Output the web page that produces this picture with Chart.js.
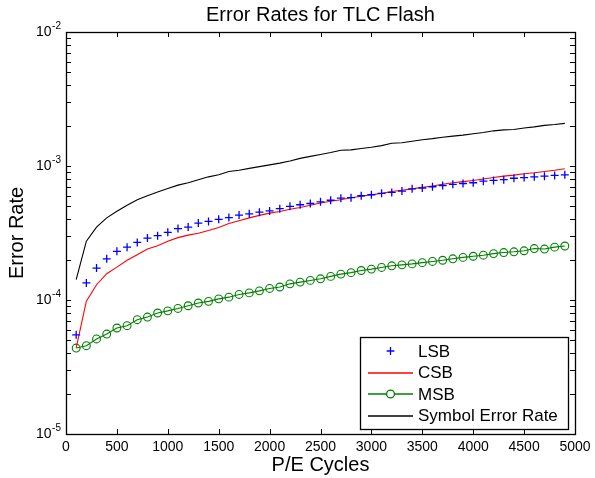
<!DOCTYPE html>
<html>
<head>
<meta charset="utf-8">
<script src="https://cdn.jsdelivr.net/npm/chart.js@4"></script>
<style>
  html, body { margin: 0; padding: 0; background: #fff; }
  #wrap { width: 595px; height: 478px; }
</style>
</head>
<body>
<div id="wrap"><canvas id="c" width="595" height="478"></canvas></div>
<script>
const chartTitle = 'Error Rates for TLC Flash';
const xTitle = 'P/E Cycles';
const yTitle = 'Error Rate';
const seriesNames = ['LSB', 'CSB', 'MSB', 'Symbol Error Rate'];
const seriesColors = ['#0000ff', '#ff0000', '#008000', '#000000'];

const cycles = [100,200,300,400,500,600,700,800,900,1000,1100,1200,1300,1400,1500,1600,1700,1800,1900,2000,
  2100,2200,2300,2400,2500,2600,2700,2800,2900,3000,3100,3200,3300,3400,3500,3600,3700,3800,3900,4000,
  4100,4200,4300,4400,4500,4600,4700,4800,4900];

const lsb = [5.5e-5,1.34e-4,1.73e-4,2.03e-4,2.31e-4,2.48e-4,2.69e-4,2.90e-4,3.02e-4,3.20e-4,
  3.41e-4,3.50e-4,3.75e-4,3.86e-4,4.00e-4,4.12e-4,4.30e-4,4.40e-4,4.52e-4,4.62e-4,
  4.80e-4,5.00e-4,5.14e-4,5.25e-4,5.40e-4,5.55e-4,5.75e-4,5.80e-4,6.00e-4,6.10e-4,
  6.25e-4,6.35e-4,6.50e-4,6.75e-4,6.85e-4,7.00e-4,7.15e-4,7.30e-4,7.40e-4,7.50e-4,
  7.70e-4,7.80e-4,7.90e-4,8.10e-4,8.20e-4,8.30e-4,8.40e-4,8.50e-4,8.60e-4];

const csb = [4.4e-5,9.8e-5,1.30e-4,1.57e-4,1.76e-4,1.98e-4,2.18e-4,2.40e-4,2.54e-4,2.74e-4,
  2.92e-4,3.05e-4,3.15e-4,3.30e-4,3.48e-4,3.72e-4,3.90e-4,4.10e-4,4.28e-4,4.45e-4,
  4.58e-4,4.75e-4,4.90e-4,5.10e-4,5.30e-4,5.45e-4,5.60e-4,5.80e-4,5.95e-4,6.10e-4,
  6.25e-4,6.45e-4,6.60e-4,6.75e-4,6.95e-4,7.10e-4,7.30e-4,7.50e-4,7.65e-4,7.80e-4,
  8.00e-4,8.20e-4,8.40e-4,8.55e-4,8.75e-4,8.90e-4,9.10e-4,9.30e-4,9.55e-4];

const msb = [4.38e-5,4.56e-5,5.12e-5,5.57e-5,6.18e-5,6.43e-5,7.13e-5,7.46e-5,8.0e-5,8.3e-5,
  8.65e-5,9.06e-5,9.5e-5,9.77e-5,1.02e-4,1.05e-4,1.10e-4,1.13e-4,1.17e-4,1.22e-4,
  1.25e-4,1.32e-4,1.36e-4,1.40e-4,1.44e-4,1.50e-4,1.56e-4,1.60e-4,1.66e-4,1.70e-4,
  1.75e-4,1.80e-4,1.83e-4,1.86e-4,1.90e-4,1.94e-4,1.98e-4,2.03e-4,2.08e-4,2.12e-4,
  2.16e-4,2.22e-4,2.26e-4,2.29e-4,2.33e-4,2.42e-4,2.40e-4,2.48e-4,2.53e-4];

const ser = [1.42e-4,2.75e-4,3.50e-4,4.10e-4,4.60e-4,5.10e-4,5.60e-4,6.00e-4,6.40e-4,6.80e-4,
  7.20e-4,7.50e-4,7.90e-4,8.30e-4,8.60e-4,9.10e-4,9.30e-4,9.60e-4,9.90e-4,1.02e-3,
  1.05e-3,1.09e-3,1.14e-3,1.18e-3,1.22e-3,1.26e-3,1.31e-3,1.32e-3,1.35e-3,1.38e-3,
  1.42e-3,1.48e-3,1.49e-3,1.53e-3,1.57e-3,1.60e-3,1.64e-3,1.67e-3,1.70e-3,1.74e-3,
  1.78e-3,1.83e-3,1.86e-3,1.87e-3,1.92e-3,1.96e-3,2.01e-3,2.04e-3,2.08e-3];

const xTicks = [0,500,1000,1500,2000,2500,3000,3500,4000,4500,5000];
const xTickLabels = ['0','500','1000','1500','2000','2500','3000','3500','4000','4500','5000'];
const yTicks = [1e-5,1e-4,1e-3,1e-2];
const yTickBase = '10';
const yTickExps = ['-5','-4','-3','-2'];

const FONT = "'Liberation Sans', Arial, Helvetica, sans-serif";

function pts(ys) { return cycles.map((x, i) => ({ x: x, y: ys[i] })); }

const frameTicks = {
  id: 'frameTicks',
  afterDatasetsDraw(chart) {
    const ctx = chart.ctx;
    const a = chart.chartArea;
    const xs = chart.scales.x, ys = chart.scales.y;
    const L = 5;
    ctx.save();
    ctx.strokeStyle = '#000';
    ctx.lineWidth = 1;
    ctx.beginPath();
    xTicks.forEach(v => {
      const px = Math.round(xs.getPixelForValue(v)) + 0.5;
      ctx.moveTo(px, a.bottom); ctx.lineTo(px, a.bottom - L);
      ctx.moveTo(px, a.top); ctx.lineTo(px, a.top + L);
    });
    for (let d = 0; d < yTicks.length; d++) {
      const base = yTicks[d];
      const mults = d < yTicks.length - 1 ? [1,2,3,4,5,6,7,8,9] : [1];
      mults.forEach(m => {
        const py = Math.round(ys.getPixelForValue(base * m)) + 0.5;
        ctx.moveTo(a.left, py); ctx.lineTo(a.left + L, py);
        ctx.moveTo(a.right, py); ctx.lineTo(a.right - L, py);
      });
    }
    ctx.stroke();
    ctx.lineWidth = 1.3;
    ctx.strokeRect(Math.round(a.left) + 0.5, Math.round(a.top) + 0.5,
      Math.round(a.right - a.left), Math.round(a.bottom - a.top));

    // y tick labels: base "10" with raised exponent
    ctx.fillStyle = '#000';
    ctx.textBaseline = 'middle';
    ctx.textAlign = 'right';
    yTicks.forEach((v, i) => {
      const py = ys.getPixelForValue(v);
      const xr = a.left - 5;
      ctx.font = '10px ' + FONT;
      const ew = ctx.measureText(yTickExps[i]).width;
      ctx.fillText(yTickExps[i], xr, py - 5.5);
      ctx.font = '14px ' + FONT;
      ctx.fillText(yTickBase, xr - ew - 0.5, py + 0.5);
    });

    // chart title centred over the plot area
    ctx.textAlign = 'center';
    ctx.font = '20px ' + FONT;
    ctx.fillText(chartTitle, (a.left + a.right) / 2, 15.5);
    ctx.restore();
  }
};

const boxLegend = {
  id: 'boxLegend',
  afterDraw(chart) {
    const ctx = chart.ctx;
    const a = chart.chartArea;
    const w = 208, h = 92;
    const x0 = Math.round(a.right - 7 - w), y0 = Math.round(a.bottom - 5 - h);
    ctx.save();
    ctx.fillStyle = '#fff';
    ctx.fillRect(x0, y0, w, h);
    ctx.strokeStyle = '#000';
    ctx.lineWidth = 1.3;
    ctx.strokeRect(x0 + 0.5, y0 + 0.5, w, h);
    ctx.font = '17px ' + FONT;
    ctx.textBaseline = 'middle';
    ctx.textAlign = 'left';
    const markers = ['cross', 'none', 'circle', 'none'];
    const lines = [false, true, true, true];
    seriesNames.forEach((name, i) => {
      const cy = y0 + 14 + i * 21.5;
      const lx0 = x0 + 8, lx1 = x0 + 53, mx = (lx0 + lx1) / 2;
      ctx.strokeStyle = seriesColors[i];
      ctx.lineWidth = 1.3;
      if (lines[i]) {
        ctx.beginPath(); ctx.moveTo(lx0, Math.round(cy)); ctx.lineTo(lx1, Math.round(cy)); ctx.stroke();
      }
      const r = 3.9;
      if (markers[i] === 'cross') {
        ctx.lineWidth = 1.3;
        ctx.beginPath();
        ctx.moveTo(mx - r, cy); ctx.lineTo(mx + r, cy);
        ctx.moveTo(mx, cy - r); ctx.lineTo(mx, cy + r);
        ctx.stroke();
      } else if (markers[i] === 'circle') {
        ctx.fillStyle = '#fff';
        ctx.beginPath(); ctx.arc(mx, Math.round(cy), r, 0, Math.PI * 2); ctx.fill(); ctx.stroke();
      }
      ctx.fillStyle = '#000';
      ctx.fillText(name, x0 + 58, cy + 1);
    });
    ctx.restore();
  }
};

new Chart(document.getElementById('c'), {
  type: 'line',
  data: {
    datasets: [
      { label: seriesNames[0], data: pts(lsb), showLine: false, borderColor: seriesColors[0], backgroundColor: seriesColors[0],
        pointStyle: 'cross', pointRadius: 4, pointBorderWidth: 1.3, pointBorderColor: seriesColors[0], order: 1 },
      { label: seriesNames[1], data: pts(csb), borderColor: seriesColors[1], borderWidth: 1.1, pointRadius: 0, order: 2 },
      { label: seriesNames[2], data: pts(msb), borderColor: seriesColors[2], borderWidth: 1.1, pointRadius: 3.9,
        pointStyle: 'circle', pointBorderColor: seriesColors[2], pointBackgroundColor: 'rgba(0,0,0,0)', pointBorderWidth: 1.1, order: 3 },
      { label: seriesNames[3], data: pts(ser), borderColor: seriesColors[3], borderWidth: 1.1, pointRadius: 0, order: 4 }
    ]
  },
  options: {
    responsive: false,
    animation: false,
    events: [],
    layout: { padding: { left: 0, right: 20, top: 32, bottom: 0 } },
    elements: { line: { tension: 0 } },
    scales: {
      x: {
        type: 'linear', min: 0, max: 5000,
        grid: { display: false, drawTicks: false },
        border: { display: false },
        afterBuildTicks: s => { s.ticks = xTicks.map(v => ({ value: v })); },
        afterFit: s => { s.height = 44; s.paddingLeft = 0; s.paddingRight = 0; },
        ticks: {
          autoSkip: false, maxRotation: 0, padding: 5, color: '#000',
          font: { family: FONT, size: 14 },
          callback: (v) => { const i = xTicks.indexOf(v); return i >= 0 ? xTickLabels[i] : ''; }
        },
        title: { display: true, text: xTitle, color: '#000', font: { family: FONT, size: 20 }, padding: { top: 0, bottom: 1 } }
      },
      y: {
        type: 'logarithmic', min: 1e-5, max: 1e-2,
        grid: { display: false, drawTicks: false },
        border: { display: false },
        afterBuildTicks: s => { s.ticks = yTicks.map(v => ({ value: v })); },
        afterFit: s => { s.width = 66; s.paddingTop = 0; s.paddingBottom = 0; },
        ticks: { display: false },
        title: { display: true, text: yTitle, color: '#000', font: { family: FONT, size: 20 }, padding: { top: 5, bottom: 0 } }
      }
    },
    plugins: {
      legend: { display: false },
      tooltip: { enabled: false },
      title: { display: false }
    }
  },
  plugins: [frameTicks, boxLegend]
});
</script>
</body>
</html>
